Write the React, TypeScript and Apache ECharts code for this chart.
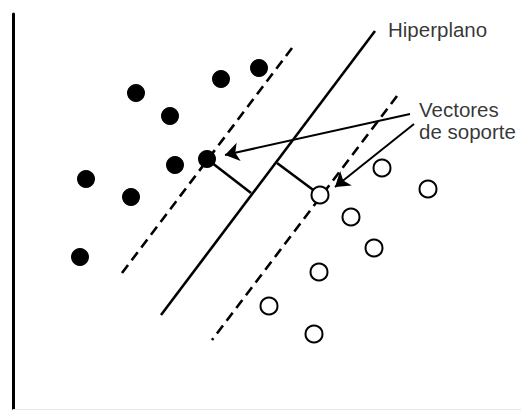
import React, { useEffect, useRef } from "react";
import * as echarts from "echarts";

// Coordinates in chart units: x to the right from the vertical axis, y upward from the bottom line
const classA: number[][] = [
  [123, 316], [157, 293], [208, 330], [246, 341], [162, 244],
  [194, 250], [73, 230], [118, 212], [67, 152],
];
const classB: number[][] = [
  [307, 214], [369, 241], [415, 220], [338, 192], [361, 161],
  [306, 137], [256, 103], [301, 75],
];
const hyperplane: number[][] = [[362, 378], [148, 94]];
const marginUpper: number[][] = [[279, 361], [109, 136]];
const marginLower: number[][] = [[384, 313], [199, 69]];
const perpendiculars: number[][][] = [
  [[194, 250], [238, 216]],
  [[264, 246], [307, 214]],
];
const arrows: number[][][] = [
  [[397, 295], [212, 254]],
  [[401, 285], [322, 222]],
];
const labelTexts = ["Hiperplano", "Vectores\nde soporte"];
const labelCoords: number[][] = [[375, 380], [406, 289]];

export default function App() {
  const ref = useRef<HTMLDivElement>(null);
  useEffect(() => {
    if (!ref.current) return;
    const chart = echarts.init(ref.current, null, { renderer: "svg" });
    const seg = (coords: number[][], type: any, width: number) => ({
      coords,
      lineStyle: { color: "#000", width, type, opacity: 1 },
    });
    chart.setOption({
      animation: false,
      backgroundColor: "#fff",
      grid: { left: 13, top: 14, width: 508, height: 395 },
      xAxis: {
        type: "value",
        min: 0,
        max: 508,
        axisLine: { show: true, lineStyle: { color: "#e6e6e6", width: 1 } },
        axisTick: { show: false },
        axisLabel: { show: false },
        splitLine: { show: false },
      },
      yAxis: {
        type: "value",
        min: 0,
        max: 395,
        axisLine: { show: true, lineStyle: { color: "#000", width: 3 } },
        axisTick: { show: false },
        axisLabel: { show: false },
        splitLine: { show: false },
      },
      series: [
        {
          type: "lines",
          coordinateSystem: "cartesian2d",
          symbol: "none",
          silent: true,
          lineStyle: { opacity: 1 },
          data: [
            seg(hyperplane, "solid", 2.6),
            seg(marginUpper, [10, 6], 2.6),
            seg(marginLower, [10, 6], 2.6),
            ...perpendiculars.map((p) => seg(p, "solid", 2.6)),
          ],
        },
        {
          type: "lines",
          coordinateSystem: "cartesian2d",
          symbol: ["none", "arrow"],
          symbolSize: [0, 14],
          silent: true,
          itemStyle: { color: "#000", opacity: 1 },
          lineStyle: { color: "#000", width: 2, opacity: 1 },
          data: arrows.map((a) => ({ coords: a })),
        },
        {
          type: "scatter",
          symbol: "circle",
          symbolSize: 18,
          itemStyle: { color: "#000", opacity: 1 },
          data: classA,
        },
        {
          type: "scatter",
          symbol: "circle",
          symbolSize: 17,
          itemStyle: { color: "#fff", borderColor: "#000", borderWidth: 2, opacity: 1 },
          data: classB,
        },
        {
          type: "scatter",
          symbolSize: 0,
          silent: true,
          data: labelCoords.map((c, i) => ({ value: c, name: labelTexts[i] })),
          label: {
            show: true,
            position: [0, 0],
            align: "left",
            verticalAlign: "middle",
            formatter: (p: any) => p.name,
            fontFamily: "Liberation Sans, Arial, sans-serif",
            fontSize: 20.5,
            lineHeight: 22,
            color: "#000",
          },
        },
      ],
    });
    return () => chart.dispose();
  }, []);
  return (
    <div
      ref={ref}
      style={{ position: "absolute", left: 0, top: 0, width: 521, height: 410 }}
    />
  );
}
